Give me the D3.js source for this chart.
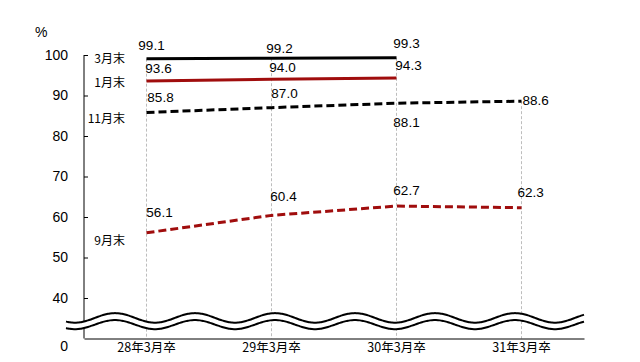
<!DOCTYPE html>
<html><head><meta charset="utf-8">
<script src="https://cdn.jsdelivr.net/npm/d3@7"></script>
<style>body{margin:0;background:#fff}svg{display:block}</style>
</head><body>
<svg id="c" width="640" height="362"></svg>
<script>
const categories = ["28年3月卒","29年3月卒","30年3月卒","31年3月卒"];
const seriesNames = ["3月末","1月末","11月末","9月末"];
const march = [99.1, 99.2, 99.3, null];
const january = [93.6, 94.0, 94.3, null];
const november = [85.8, 87.0, 88.1, 88.6];
const september = [56.1, 60.4, 62.7, 62.3];
const yTickValues = [30, 40, 50, 60, 70, 80, 90, 100];
const yTickLabels = ["0", "40", "50", "60", "70", "80", "90", "100"];
const unitLabel = "%";

(function(){
const svg = d3.select("#c");
const pLeft = 84, pRight = 584, pTop = 55, pBottom = 338.5;
const x = d3.scaleBand().domain(categories).range([pLeft, pRight]);
const cx = c => x(c) + x.bandwidth() / 2;
const y = d3.scaleLinear().domain([30, 100]).range([pBottom, pTop]);

const series = [
  {name: seriesNames[0], values: march, color: "#000", dash: null, labelDy: [-13, -10, -14, 0], labelDx: [5, 8, 10, 0]},
  {name: seriesNames[1], values: january, color: "#a00d0d", dash: null, labelDy: [-12, -12, -13, 0], labelDx: [12, 11, 12, 0]},
  {name: seriesNames[2], values: november, color: "#000", dash: "8,4", labelDy: [-15, -14, 19, -1], labelDx: [14, 13, 10, 1]},
  {name: seriesNames[3], values: september, color: "#a00d0d", dash: "8,4", labelDy: [-20, -19, -16, -15], labelDx: [13, 12, 10, -4]}
];
const nameY = [57, 81, 117, 239];

const numFont = "'Liberation Sans', Arial, sans-serif";
const jpFont = "'Noto Sans CJK JP', sans-serif";

// drop gridlines
categories.forEach((c, i) => {
  const vals = series.map(s => s.values[i]).filter(v => v != null);
  const mx = d3.max(vals);
  svg.append("line").attr("x1", cx(c)).attr("x2", cx(c))
    .attr("y1", y(mx)).attr("y2", pBottom)
    .attr("stroke", "#bdbdbd").attr("stroke-width", 1).attr("stroke-dasharray", "3,2");
});

// axes
const yAxis = d3.axisLeft(y).tickValues(yTickValues)
  .tickFormat((d, i) => yTickLabels[i]).tickSize(-4).tickPadding(16);
const gy = svg.append("g").attr("transform", `translate(${pLeft},0)`).call(yAxis);
gy.select(".domain").attr("stroke", "#000").attr("d", `M0,${pTop}V${pBottom}`);
gy.selectAll(".tick line").attr("stroke", "#000");
gy.selectAll(".tick text").attr("font-family", numFont).attr("font-size", 14).attr("fill", "#000");
gy.selectAll(".tick").filter(d => d === 30).select("text").attr("dy", "0.85em");
gy.selectAll(".tick").filter(d => d === 30).select("line").remove();

const xAxis = d3.axisBottom(x).tickSize(0).tickPadding(5);
const gx = svg.append("g").attr("transform", `translate(0,${pBottom})`).call(xAxis);
gx.select(".domain").attr("stroke", "#000");
gx.selectAll(".tick text").attr("font-family", jpFont).attr("font-size", 12.5).attr("fill", "#000");

svg.append("text").attr("x", 35).attr("y", 37).text(unitLabel)
  .attr("font-family", numFont).attr("font-size", 14);

// lines
const line = d3.line().defined(d => d.v != null).x(d => cx(d.c)).y(d => y(d.v));
series.forEach(s => {
  const pts = categories.map((c, i) => ({c, v: s.values[i]}));
  svg.append("path").datum(pts).attr("d", line).attr("fill", "none")
    .attr("stroke", s.color).attr("stroke-width", 3)
    .attr("stroke-dasharray", s.dash);
});

// wave break
const waveX = d3.range(66, 585, 2);
const up = xx => 317.9 - 4.8 * Math.cos(2 * Math.PI * (xx - 115) / 80);
const lo = xx => 324.6 - 4.6 * Math.cos(2 * Math.PI * (xx - 115) / 80);
const band = waveX.map(xx => [xx, up(xx)]).concat(waveX.slice().reverse().map(xx => [xx, lo(xx)]));
svg.append("path").attr("d", "M" + band.join("L") + "Z").attr("fill", "#fff");
const wl = d3.line().curve(d3.curveBasis);
svg.append("path").attr("d", wl(waveX.map(xx => [xx, up(xx)]))).attr("fill", "none").attr("stroke", "#000").attr("stroke-width", 2);
svg.append("path").attr("d", wl(waveX.map(xx => [xx, lo(xx)]))).attr("fill", "none").attr("stroke", "#000").attr("stroke-width", 2);

// value labels
series.forEach(s => {
  s.values.forEach((v, i) => {
    if (v == null) return;
    svg.append("text").attr("x", cx(categories[i]) + s.labelDx[i]).attr("y", y(v) + s.labelDy[i])
      .attr("text-anchor", i === 3 ? "start" : "middle").attr("dominant-baseline", "central")
      .attr("font-family", numFont).attr("font-size", 13.5).attr("fill", "#000").text(v.toFixed(1));
  });
});

// series name labels
series.forEach((s, k) => {
  svg.append("text").attr("x", 125).attr("y", nameY[k]).attr("text-anchor", "end")
    .attr("dominant-baseline", "central").attr("font-family", jpFont).attr("font-size", 12)
    .attr("fill", "#000").text(s.name);
});
})();
</script>
</body></html>
